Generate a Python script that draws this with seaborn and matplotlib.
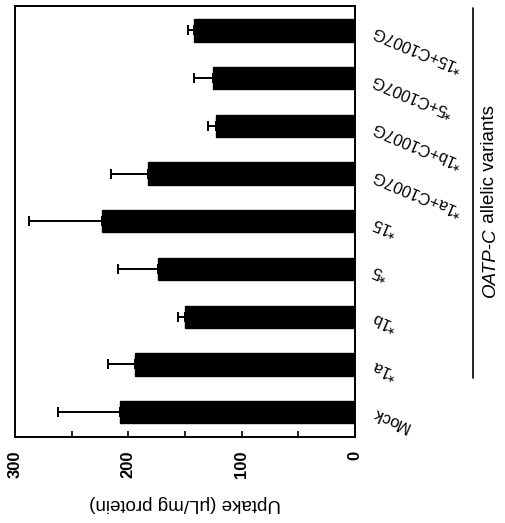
import matplotlib
matplotlib.use("Agg")
import matplotlib.pyplot as plt
import seaborn as sns
import pandas as pd
import numpy as np
from matplotlib.lines import Line2D

# ---- data (bottom-to-top as in the picture) ----
categories = ["Mock", "*1a", "*1b", "*5", "*15",
              "*1a+C1007G", "*1b+C1007G", "*5+C1007G", "*15+C1007G"]
uptake = [207, 194, 150, 174, 223, 183, 123, 125, 142]
sem = [55, 24, 6, 35, 65, 32, 7, 17, 5]
x_ticks = [0, 100, 200, 300]
x_label = "Uptake (\u03bcL/mg protein)"
group_label_italic = "OATP-C"
group_label_rest = " allelic variants"

sns.set_theme(style="white")
plt.rcParams["font.family"] = ["Liberation Sans", "DejaVu Sans"]

order = categories[::-1]  # top-to-bottom
df = pd.DataFrame({"variant": categories, "uptake": uptake, "sem": sem})

fig = plt.figure(figsize=(5.05, 5.23), dpi=100)
ax = fig.add_axes([15 / 505, 1 - 437 / 523, 340 / 505, 431 / 523])

sns.barplot(data=df, x="uptake", y="variant", order=order, color="black",
            width=0.47, errorbar=None, saturation=1, ax=ax, edgecolor="black")

d = df.set_index("variant").loc[order]
ypos = np.arange(len(order))
ax.errorbar(d["uptake"].values, ypos,
            xerr=[np.zeros(len(order)), d["sem"].values],
            fmt="none", ecolor="black", elinewidth=1.4, capsize=3.5, capthick=1.4)

ax.set_xlim(300, 0)
ax.set_ylim(8.52, -0.51)

# x ticks
ax.set_xticks(x_ticks)
ax.set_xticks([50, 150, 250], minor=True)
ax.set_xticklabels([str(v) for v in x_ticks], rotation=90, fontsize=12,
                   fontweight="bold", va="top", ha="center")
ax.tick_params(axis="x", which="both", direction="in", length=4, width=1.2,
               bottom=True, top=False, pad=10, colors="black")
ax.set_xlabel(x_label, rotation=180, fontsize=13.5, labelpad=12, color="black")

# y (category) labels on the right, upside-down & slanted
ax.yaxis.tick_right()
ax.set_ylabel("")
ax.tick_params(axis="y", which="both", length=0, pad=13, right=False, left=False)
ax.set_yticks(ypos)
ax.set_yticklabels(order, fontsize=11.8, color="black")
for lbl in ax.get_yticklabels():
    lbl.set_rotation(157)
    lbl.set_rotation_mode("anchor")
    lbl.set_horizontalalignment("right")
    lbl.set_verticalalignment("center")

for s in ax.spines.values():
    s.set_visible(True)
    s.set_color("black")
    s.set_linewidth(1.4)

# group bracket line and label
fig.add_artist(Line2D([473 / 505, 473 / 505], [1 - 8 / 523, 1 - 378 / 523],
                      color="black", lw=1.2))
t1 = fig.text(490 / 505, 1 - 297 / 523, group_label_italic, rotation=90,
              fontsize=13.5, style="italic", ha="center", va="bottom", color="black")
ax.annotate(group_label_rest, xy=(0.5, 1.0), xycoords=t1, rotation=90,
            fontsize=13.5, ha="center", va="bottom", color="black",
            annotation_clip=False)

fig.savefig("out.png", dpi=100)
